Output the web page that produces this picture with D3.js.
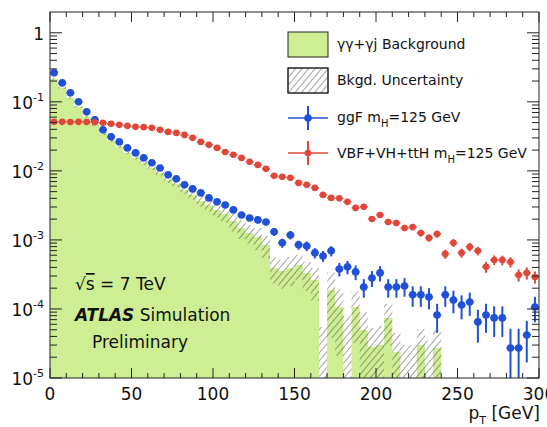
<!DOCTYPE html>
<html>
<head>
<meta charset="utf-8">
<script src="https://cdn.jsdelivr.net/npm/d3@7"></script>
<style>
body { margin: 0; background: #fff; }
text { font-family: "DejaVu Sans", sans-serif; fill: #111; }
</style>
</head>
<body>
<script>
// pT bin edges [GeV] (5 GeV bins)
const ptEdges = [0,5,10,15,20,25,30,35,40,45,50,55,60,65,70,75,80,85,90,95,
  100,105,110,115,120,125,130,135,140,145,150,155,160,165,170,175,180,185,190,195,
  200,205,210,215,220,225,230,235,240,245,250,255,260,265,270,275,280,285,290,295,300];

// gamma-gamma + gamma-jet background (normalised) and its uncertainty
const bkg = [0.215,0.160,0.114,0.0848,0.0607,0.0464,0.0344,0.0272,0.0223,0.0182,
  0.0154,0.0131,0.0110,0.00935,0.00741,0.00649,0.00530,0.00449,0.00367,0.00321,
  0.00272,0.00238,0.00188,0.00149,0.00126,0.00110,0.000848,0.000393,0.000356,0.000390,
  0.000434,0.000333,0.000263,0,0.000188,0.000107,0,0.000107,0.0000496,0.0000281,
  0.0000301,0.0000742,0.0000238,0,0,0.0000301,0,0.0000272,0,0,
  0,0,0,0,0,0,0,0,0,0];
const bkgErr = [0.0065,0.0048,0.0034,0.0025,0.0018,0.0014,0.0012,0.00095,0.00089,0.00073,
  0.00077,0.00079,0.00077,0.00075,0.00074,0.00065,0.00064,0.00067,0.00066,0.00064,
  0.0006,0.0006,0.00056,0.00045,0.00038,0.00039,0.0003,0.00016,0.00016,0.000175,
  0.00017,0.00015,0.00013,0.000055,0.00015,0.000086,0.00008,0.000075,0.00004,0.000025,
  0.000027,0.000045,0.000021,0.00003,0.00003,0.000021,0.000035,0.000024,0,0,
  0,0,0,0,0,0,0,0,0,0];

// ggF signal and relative stat. error
const ggf = [0.263,0.188,0.135,0.100,0.0716,0.0548,0.0393,0.0311,0.0263,0.0215,
  0.0182,0.0154,0.0131,0.0110,0.00875,0.00766,0.00627,0.00548,0.00480,0.00406,
  0.00356,0.00321,0.00272,0.00230,0.00208,0.00195,0.00182,0.00131,0.000906,0.00118,
  0.000848,0.000818,0.000649,0.000586,0.000694,0.000380,0.000407,0.000344,0.000208,0.000281,
  0.000333,0.000208,0.000208,0.000215,0.000160,0.000160,0.000149,0.0000819,0.000160,0.000135,
  0.000114,0.000126,0.0000649,0.0000819,0.0000742,0.0000742,0.0000272,0.0000272,0.0000420,0.000107];
const ggfErr = [0.02,0.02,0.02,0.02,0.03,0.03,0.03,0.03,0.04,0.04,
  0.04,0.05,0.05,0.05,0.06,0.06,0.06,0.07,0.07,0.08,
  0.08,0.09,0.09,0.1,0.1,0.11,0.11,0.13,0.15,0.14,
  0.15,0.16,0.17,0.18,0.17,0.22,0.22,0.24,0.3,0.26,
  0.25,0.3,0.3,0.3,0.33,0.33,0.34,0.45,0.33,0.36,
  0.38,0.37,0.5,0.45,0.47,0.47,0.9,0.9,0.6,0.4];

// VBF+VH+ttH signal and relative stat. error
const vbf = [0.0513,0.0513,0.0510,0.0513,0.0510,0.0505,0.0496,0.0480,0.0464,0.0449,
  0.0434,0.0430,0.0420,0.0393,0.0367,0.0355,0.0332,0.0301,0.0263,0.0238,
  0.0215,0.0188,0.0171,0.0154,0.0135,0.0122,0.0107,0.00847,0.00819,0.00792,
  0.00670,0.00627,0.00567,0.00449,0.00406,0.00400,0.00356,0.00291,0.00301,0.00201,
  0.00230,0.00182,0.00176,0.00149,0.00154,0.00126,0.00107,0.00122,0.000627,0.000906,
  0.000649,0.000792,0.000694,0.000407,0.000513,0.000510,0.000480,0.000311,0.000333,0.000291];
const vbfErr = [0.02,0.02,0.02,0.02,0.02,0.02,0.02,0.02,0.02,0.02,
  0.02,0.02,0.02,0.03,0.03,0.03,0.03,0.03,0.03,0.03,
  0.03,0.04,0.04,0.04,0.04,0.04,0.05,0.05,0.05,0.05,
  0.06,0.06,0.06,0.07,0.07,0.07,0.08,0.08,0.08,0.09,
  0.09,0.1,0.1,0.1,0.11,0.11,0.12,0.12,0.15,0.13,
  0.15,0.14,0.14,0.18,0.16,0.16,0.17,0.2,0.2,0.2];

// axis ticks
const xTicks = [0,50,100,150,200,250,300];
const xMinor = [10,20,30,40,60,70,80,90,110,120,130,140,160,170,180,190,210,220,230,240,260,270,280,290];
const yDecades = [1e-5,1e-4,1e-3,1e-2,1e-1,1];
const yExp = ["-5","-4","-3","-2","-1",""];

var W = 547, H = 427;
var margin = {top: 12, right: 8, bottom: 49, left: 50},
    width = W - margin.left - margin.right,
    height = H - margin.top - margin.bottom;

var green = "#cdee93", blue = "#2050d8", red = "#e0473a";
var yMin = 1e-5;

var x = d3.scaleLinear().domain([0, 300]).range([0, width]);
var y = d3.scaleLog().domain([yMin, 2]).range([height, 0]);
var yc = v => y(Math.max(v, yMin));

var root = d3.select("body").append("svg")
  .attr("width", W).attr("height", H);

var defs = root.append("defs");
var pat = defs.append("pattern").attr("id", "hatch")
  .attr("patternUnits", "userSpaceOnUse")
  .attr("width", 5).attr("height", 5)
  .attr("patternTransform", "rotate(40)");
pat.append("line").attr("x1", 0).attr("y1", 0).attr("x2", 0).attr("y2", 5)
  .attr("stroke", "#333").attr("stroke-width", 0.9);
defs.append("clipPath").attr("id", "clip")
  .append("rect").attr("width", width).attr("height", height);

var svg = root.append("g")
  .attr("transform", "translate(" + margin.left + "," + margin.top + ")");
var plot = svg.append("g").attr("clip-path", "url(#clip)");

// step points for the histogram
var steps = ptEdges.map(function(e, i) {
  var k = Math.min(i, bkg.length - 1);
  return {x: e, v: bkg[k], e: bkgErr[k]};
});

// background histogram
plot.append("path").datum(steps)
  .attr("fill", green)
  .attr("d", d3.area().curve(d3.curveStepAfter)
    .x(d => x(d.x)).y0(height).y1(d => yc(d.v)));

// background uncertainty band
plot.append("path").datum(steps)
  .attr("fill", "url(#hatch)")
  .attr("d", d3.area().curve(d3.curveStepAfter)
    .x(d => x(d.x)).y0(d => yc(d.v - d.e)).y1(d => yc(d.v + d.e)));

// signal points with error bars
function drawSeries(vals, errs, col, r) {
  var pts = vals.map((v, i) => ({lo: ptEdges[i], hi: ptEdges[i + 1], v: v, r: errs[i]}));
  var g = plot.append("g");
  g.selectAll(".h").data(pts).enter().append("line")
    .attr("x1", d => x(d.lo)).attr("x2", d => x(d.hi))
    .attr("y1", d => y(d.v)).attr("y2", d => y(d.v))
    .attr("stroke", col).attr("stroke-width", 1.3);
  g.selectAll(".v").data(pts).enter().append("line")
    .attr("x1", d => x((d.lo + d.hi) / 2)).attr("x2", d => x((d.lo + d.hi) / 2))
    .attr("y1", d => yc(d.v * (1 - d.r))).attr("y2", d => y(d.v * (1 + d.r)))
    .attr("stroke", col).attr("stroke-width", 2);
  g.selectAll("circle").data(pts).enter().append("circle")
    .attr("cx", d => x((d.lo + d.hi) / 2)).attr("cy", d => y(d.v))
    .attr("r", r).attr("fill", col);
}
drawSeries(ggf, ggfErr, blue, 3.8);
drawSeries(vbf, vbfErr, red, 3.3);

// frame
svg.append("rect").attr("width", width).attr("height", height)
  .attr("fill", "none").attr("stroke", "#222").attr("stroke-width", 1);

// x ticks (inside, top and bottom)
[[height, -1], [0, 1]].forEach(function(s) {
  svg.selectAll(null).data(xTicks).enter().append("line")
    .attr("x1", d => x(d)).attr("x2", d => x(d))
    .attr("y1", s[0]).attr("y2", s[0] + s[1] * 10).attr("stroke", "#222");
  svg.selectAll(null).data(xMinor).enter().append("line")
    .attr("x1", d => x(d)).attr("x2", d => x(d))
    .attr("y1", s[0]).attr("y2", s[0] + s[1] * 5).attr("stroke", "#222");
});
svg.selectAll(".xl").data(xTicks).enter().append("text")
  .attr("x", d => x(d)).attr("y", height + 22)
  .attr("text-anchor", "middle").style("font-size", "17px")
  .text(d => d);

// y ticks (log, inside, left and right)
var yMinor = [];
yDecades.forEach(function(dec) {
  for (var m = 2; m <= 9; m++) if (dec * m < 2) yMinor.push(dec * m);
});
[[0, 1], [width, -1]].forEach(function(s) {
  svg.selectAll(null).data(yDecades).enter().append("line")
    .attr("x1", s[0]).attr("x2", s[0] + s[1] * 12)
    .attr("y1", d => y(d)).attr("y2", d => y(d)).attr("stroke", "#222");
  svg.selectAll(null).data(yMinor).enter().append("line")
    .attr("x1", s[0]).attr("x2", s[0] + s[1] * 7)
    .attr("y1", d => y(d)).attr("y2", d => y(d)).attr("stroke", "#222");
});
yDecades.forEach(function(d, i) {
  var t = svg.append("text").attr("x", -6).attr("y", y(d) + 7)
    .attr("text-anchor", "end").style("font-size", "17px");
  if (yExp[i] === "") { t.text("1"); return; }
  t.append("tspan").text("10");
  t.append("tspan").attr("dy", -8).style("font-size", "11px").text(yExp[i]);
});

// axis title
var xt = root.append("text").attr("x", 540).attr("y", 419)
  .attr("text-anchor", "end").style("font-size", "17px");
xt.append("tspan").text("p");
xt.append("tspan").attr("dy", 5).style("font-size", "11px").text("T");
xt.append("tspan").attr("dy", -5).text(" [GeV]");

// labels inside plot
var rs = root.append("text").attr("x", 75).attr("y", 290).style("font-size", "17px");
rs.append("tspan").text("\u221A");
rs.append("tspan").style("text-decoration", "overline").text("s");
rs.append("tspan").text(" = 7 TeV");
var at = root.append("text").attr("x", 75).attr("y", 321).style("font-size", "17px");
at.append("tspan").style("font-weight", "bold").style("font-style", "italic").text("ATLAS");
at.append("tspan").text(" Simulation");
root.append("text").attr("x", 140).attr("y", 348).attr("text-anchor", "middle")
  .style("font-size", "17px").text("Preliminary");

// legend
var lx = 288, lw = 40;
root.append("rect").attr("x", lx).attr("y", 32).attr("width", lw).attr("height", 25)
  .attr("fill", green).attr("stroke", "#222");
root.append("rect").attr("x", lx).attr("y", 68).attr("width", lw).attr("height", 25)
  .attr("fill", "#fff").attr("stroke", "#222");
root.append("rect").attr("x", lx).attr("y", 68).attr("width", lw).attr("height", 25)
  .attr("fill", "url(#hatch)").attr("stroke", "#222");
[[118, blue, 3.8], [153, red, 3.3]].forEach(function(e) {
  root.append("line").attr("x1", lx).attr("x2", lx + lw).attr("y1", e[0]).attr("y2", e[0])
    .attr("stroke", e[1]).attr("stroke-width", 1.3);
  root.append("line").attr("x1", lx + lw / 2).attr("x2", lx + lw / 2)
    .attr("y1", e[0] - 12).attr("y2", e[0] + 12).attr("stroke", e[1]).attr("stroke-width", 2);
  root.append("circle").attr("cx", lx + lw / 2).attr("cy", e[0]).attr("r", e[2]).attr("fill", e[1]);
});
var legText = [
  [49, [["\u03B3\u03B3+\u03B3j Background"]]],
  [85, [["Bkgd. Uncertainty"]]],
  [122, [["ggF m"], ["H", 1], ["=125 GeV", -1]]],
  [158, [["VBF+VH+ttH m"], ["H", 1], ["=125 GeV", -1]]]
];
legText.forEach(function(l) {
  var t = root.append("text").attr("x", 337).attr("y", l[0]).style("font-size", "14px");
  l[1].forEach(function(p) {
    var s = t.append("tspan").text(p[0]);
    if (p[1] === 1) s.attr("dy", 5).style("font-size", "10px");
    if (p[1] === -1) s.attr("dy", -5);
  });
});
</script>
</body>
</html>
